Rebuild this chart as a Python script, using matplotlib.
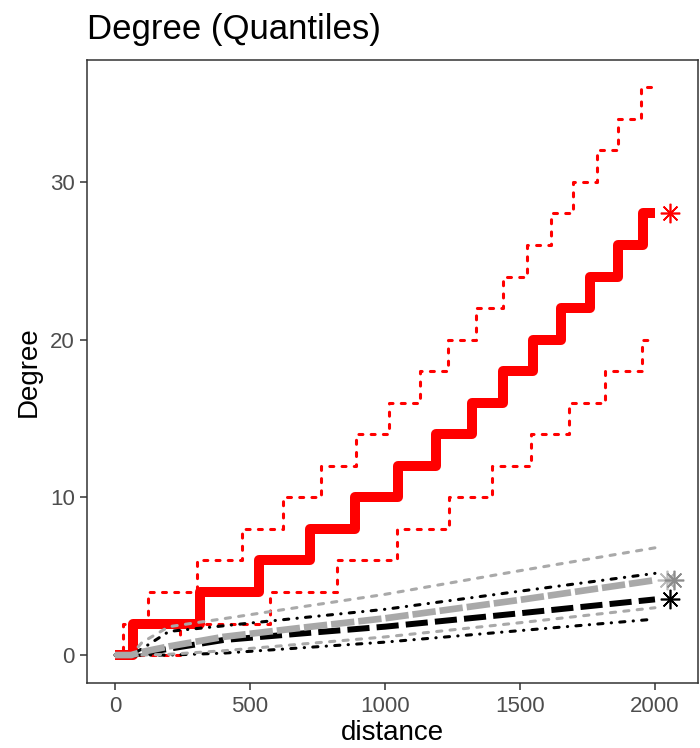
import numpy as np
import matplotlib
matplotlib.use("Agg")
import matplotlib.pyplot as plt

plt.rcParams['font.family'] = ['Liberation Sans', 'DejaVu Sans']

# red group: step quantiles (change points in distance, degree levels)
red_med_x = [0, 65, 315, 532, 722, 889, 1049, 1189, 1321, 1437, 1549, 1652, 1759, 1862, 1957, 2000]
red_med_y = [0, 2, 4, 6, 8, 10, 12, 14, 16, 18, 20, 22, 24, 26, 28, 28]
red_hi_x = [0, 30, 122, 302, 469, 623, 763, 893, 1016, 1130, 1232, 1337, 1436, 1525, 1615, 1698, 1784, 1864, 1948, 2000]
red_hi_y = [0, 2, 4, 6, 8, 10, 12, 14, 16, 18, 20, 22, 24, 26, 28, 30, 32, 34, 36, 36]
red_lo_x = [0, 241, 574, 822, 1043, 1237, 1397, 1540, 1680, 1815, 1953, 2000]
red_lo_y = [0, 2, 4, 6, 8, 10, 12, 14, 16, 18, 20, 20]

# black / gray groups: smooth quantile curves
dist = [0, 60, 100, 200, 400, 700, 1000, 1500, 2000]
gray_hi = [0, 0, 0.8, 1.8, 2.3, 3.08, 3.85, 5.35, 6.8]
black_hi = [0, 0, 0.4, 1.5, 1.85, 2.38, 2.9, 4.05, 5.18]
gray_med = [0, 0, 0.2, 0.55, 1.15, 1.75, 2.33, 3.5, 4.75]
black_med = [0, 0, 0.1, 0.4, 0.95, 1.38, 1.8, 2.65, 3.53]
gray_lo = [0, 0, 0, 0.05, 0.27, 0.71, 1.15, 2.05, 3.0]
black_lo = [0, 0, 0, 0, 0.12, 0.47, 0.82, 1.55, 2.28]

# observed values (asterisks)
obs_x = [2055, 2055, 2045, 2070]
obs_y = [28, 3.55, 4.75, 4.75]
obs_col = ['#FF0000', '#000000', '#BBBBBB', '#8C8C8C']

fig = plt.figure(figsize=(7, 7.48), dpi=100)
ax = fig.add_axes([0.1247, 0.0865, 0.997 - 0.1247, 0.9198 - 0.0865])

# red quantiles
for xs, ys in [(red_hi_x, red_hi_y), (red_lo_x, red_lo_y)]:
    ax.step(xs, ys, where='post', color='#FF0000', lw=2.2,
            linestyle=(0, (1.3, 2.7)), dash_capstyle='round')
ax.step(red_med_x, red_med_y, where='post', color='#FF0000', lw=7.2,
        solid_joinstyle='round', solid_capstyle='butt')

# black group
for ys in [black_hi, black_lo]:
    ax.plot(dist, ys, color='black', lw=2.2,
            linestyle=(0, (1.7, 2.7, 0.1, 2.7)), dash_capstyle='round')
ax.plot(dist, black_med, color='black', lw=4.3, linestyle=(0, (3.7, 1.2)))

# gray group
for ys in [gray_hi, gray_lo]:
    ax.plot(dist, ys, color='#A9A9A9', lw=2.2,
            linestyle=(0, (1.7, 2.7)), dash_capstyle='round')
ax.plot(dist, gray_med, color='#A9A9A9', lw=4.8, linestyle=(0, (3.5, 0.6)))

for xo, yo, c in zip(obs_x, obs_y, obs_col):
    ax.plot(xo, yo, marker=(8, 2, 0), markersize=14, color=c, mew=1.2, linestyle='none')

ax.set_xlim(-102.6, 2159)
ax.set_ylim(-1.79, 37.73)
ax.set_xticks([0, 500, 1000, 1500, 2000])
ax.set_yticks([0, 10, 20, 30])

for s in ax.spines.values():
    s.set_color('#333333')
    s.set_linewidth(1.1)
ax.tick_params(colors='#333333', length=5, width=1.1, labelsize=16,
               labelcolor='#4D4D4D', pad=4)

ax.set_xlabel('distance', fontsize=20, labelpad=2)
ax.set_ylabel('Degree', fontsize=20, labelpad=6)
ax.set_title('Degree (Quantiles)', loc='left', fontsize=25, pad=15)

fig.savefig('out.png', dpi=100)
